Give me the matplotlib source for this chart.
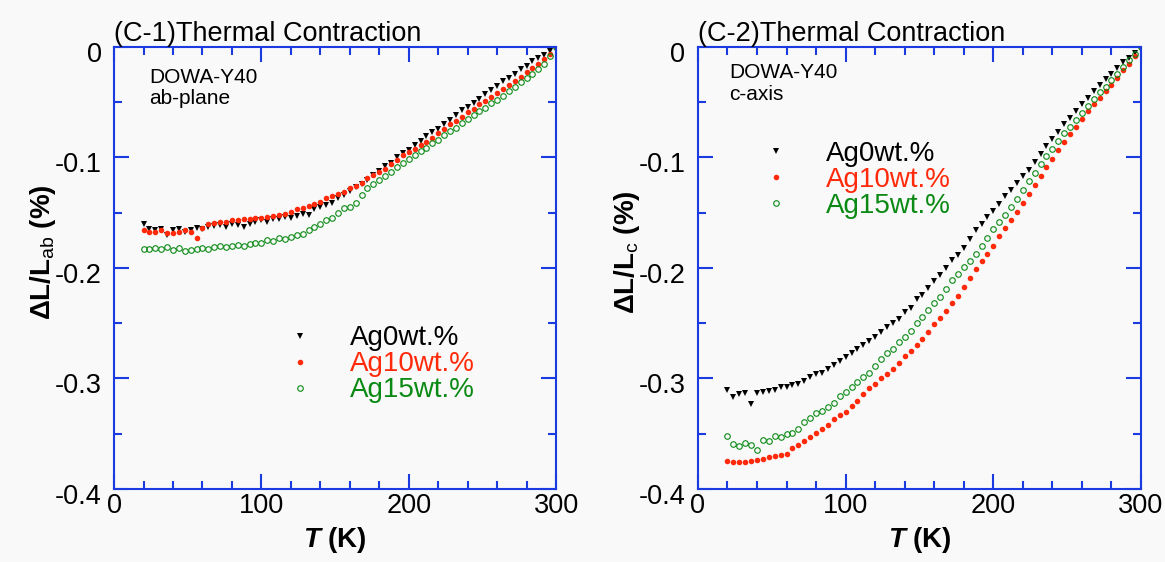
import matplotlib
matplotlib.use("Agg")
import matplotlib.pyplot as plt
import matplotlib.transforms as mtransforms
from matplotlib.ticker import MultipleLocator

plt.rcParams['font.family'] = ['Liberation Sans', 'DejaVu Sans']
plt.rcParams['mathtext.fontset'] = 'custom'
plt.rcParams['mathtext.rm'] = 'Liberation Sans'
plt.rcParams['mathtext.bf'] = 'Liberation Sans:bold'
plt.rcParams['mathtext.it'] = 'Liberation Sans:italic:bold'

# -----------------------------
# data
# -----------------------------
temp = [20, 24, 28, 32, 36, 40, 44, 48, 52, 56, 60, 64, 68, 72, 76, 80, 84, 88,
        92, 96, 100, 104, 108, 112, 116, 120, 124, 128, 132, 136, 140, 144, 148,
        152, 156, 160, 164, 168, 172, 176, 180, 184, 188, 192, 196, 200, 204,
        208, 212, 216, 220, 224, 228, 232, 236, 240, 244, 248, 252, 256, 260,
        264, 268, 272, 276, 280, 284, 288, 292, 296, 300]

ab_ag0 = [-0.160, -0.165, -0.166, -0.165, -0.170, -0.166, -0.165, -0.167, -0.166,
          -0.164, -0.165, -0.163, -0.162, -0.161, -0.163, -0.160, -0.161, -0.163,
          -0.160, -0.158, -0.157, -0.158, -0.156, -0.156, -0.154, -0.155, -0.153,
          -0.151, -0.152, -0.147, -0.145, -0.143, -0.141, -0.137, -0.134, -0.130,
          -0.127, -0.124, -0.120, -0.116, -0.112, -0.108, -0.105, -0.100, -0.096,
          -0.093, -0.089, -0.085, -0.081, -0.077, -0.074, -0.070, -0.066, -0.062,
          -0.057, -0.054, -0.051, -0.047, -0.043, -0.039, -0.035, -0.031, -0.028,
          -0.024, -0.020, -0.017, -0.013, -0.010, -0.007, -0.004, 0.000]

ab_ag10 = [-0.166, -0.167, -0.167, -0.166, -0.168, -0.168, -0.167, -0.166, -0.167,
           -0.173, -0.164, -0.160, -0.159, -0.158, -0.158, -0.157, -0.157, -0.156,
           -0.156, -0.155, -0.155, -0.154, -0.153, -0.152, -0.151, -0.149, -0.147,
           -0.146, -0.144, -0.142, -0.140, -0.137, -0.135, -0.133, -0.131, -0.128,
           -0.126, -0.123, -0.119, -0.116, -0.113, -0.110, -0.106, -0.102, -0.098,
           -0.095, -0.092, -0.089, -0.086, -0.082, -0.078, -0.074, -0.070, -0.067,
           -0.063, -0.059, -0.056, -0.052, -0.049, -0.045, -0.042, -0.038, -0.034,
           -0.031, -0.027, -0.023, -0.019, -0.015, -0.011, -0.006, 0.000]

ab_ag15 = [-0.183, -0.183, -0.182, -0.183, -0.181, -0.184, -0.182, -0.185, -0.184,
           -0.183, -0.182, -0.183, -0.181, -0.180, -0.181, -0.180, -0.179, -0.180,
           -0.178, -0.177, -0.177, -0.175, -0.176, -0.173, -0.174, -0.172, -0.170,
           -0.169, -0.166, -0.163, -0.160, -0.157, -0.155, -0.150, -0.146, -0.145,
           -0.141, -0.134, -0.128, -0.124, -0.120, -0.117, -0.113, -0.109, -0.105,
           -0.101, -0.098, -0.094, -0.091, -0.087, -0.084, -0.080, -0.076, -0.073,
           -0.069, -0.065, -0.062, -0.058, -0.055, -0.051, -0.048, -0.044, -0.040,
           -0.036, -0.032, -0.028, -0.024, -0.020, -0.015, -0.008, 0.000]

c_ag0 = [-0.310, -0.317, -0.314, -0.313, -0.323, -0.313, -0.312, -0.311, -0.310,
         -0.308, -0.308, -0.306, -0.305, -0.302, -0.299, -0.296, -0.295, -0.291,
         -0.288, -0.284, -0.281, -0.277, -0.273, -0.270, -0.266, -0.262, -0.258,
         -0.253, -0.250, -0.246, -0.240, -0.236, -0.228, -0.224, -0.218, -0.212,
         -0.206, -0.200, -0.193, -0.188, -0.182, -0.174, -0.166, -0.160, -0.154,
         -0.148, -0.142, -0.135, -0.129, -0.123, -0.117, -0.111, -0.104, -0.097,
         -0.090, -0.083, -0.077, -0.070, -0.064, -0.058, -0.052, -0.046, -0.040,
         -0.034, -0.029, -0.024, -0.019, -0.014, -0.010, -0.005, 0.000]

c_ag10 = [-0.375, -0.376, -0.376, -0.376, -0.375, -0.374, -0.373, -0.371, -0.370,
          -0.369, -0.368, -0.363, -0.360, -0.357, -0.353, -0.349, -0.346, -0.342,
          -0.337, -0.333, -0.330, -0.325, -0.320, -0.314, -0.309, -0.305, -0.300,
          -0.296, -0.291, -0.286, -0.280, -0.275, -0.270, -0.264, -0.258, -0.251,
          -0.245, -0.239, -0.232, -0.225, -0.217, -0.209, -0.201, -0.194, -0.187,
          -0.180, -0.171, -0.164, -0.157, -0.149, -0.141, -0.133, -0.125, -0.117,
          -0.109, -0.101, -0.093, -0.086, -0.079, -0.072, -0.065, -0.058, -0.052,
          -0.046, -0.040, -0.034, -0.028, -0.021, -0.015, -0.008, 0.000]

c_ag15 = [-0.352, -0.359, -0.361, -0.358, -0.360, -0.365, -0.356, -0.357, -0.352,
          -0.353, -0.350, -0.349, -0.346, -0.339, -0.336, -0.331, -0.329, -0.326,
          -0.322, -0.316, -0.312, -0.308, -0.303, -0.299, -0.295, -0.289, -0.282,
          -0.277, -0.273, -0.267, -0.262, -0.257, -0.250, -0.244, -0.238, -0.232,
          -0.226, -0.219, -0.211, -0.205, -0.199, -0.194, -0.187, -0.180, -0.173,
          -0.165, -0.158, -0.152, -0.145, -0.138, -0.129, -0.121, -0.114, -0.106,
          -0.099, -0.092, -0.085, -0.078, -0.072, -0.066, -0.060, -0.053, -0.047,
          -0.041, -0.036, -0.030, -0.024, -0.018, -0.012, -0.006, 0.000]

labels = ['Ag0wt.%', 'Ag10wt.%', 'Ag15wt.%']
colors = ['black', '#ff2a0a', '#0a8a14']
axis_blue = '#1a3be0'

fig = plt.figure(figsize=(11.65, 5.62), dpi=100, facecolor='#f9f9f9')
ax1 = fig.add_axes([0.0979, 0.1299, 0.3794, 0.7865])
ax2 = fig.add_axes([0.5991, 0.1299, 0.3803, 0.7865])

panels = [
    (ax1, [ab_ag0, ab_ag10, ab_ag15], '(C-1)Thermal Contraction',
     'DOWA-Y40\nab-plane', 'ab', (0.079, 0.952), (0.389, 0.37)),
    (ax2, [c_ag0, c_ag10, c_ag15], '(C-2)Thermal Contraction',
     'DOWA-Y40\nc-axis', 'c', (0.070, 0.963), (0.145, 0.787)),
]

for ax, series, title, note, sub, note_pos, leg_pos in panels:
    ax.set_facecolor('#f9f9f9')
    ax.plot(temp, series[0], 'v', color=colors[0], ms=4.6, mew=0, label=labels[0])
    ax.plot(temp, series[1], 'o', color=colors[1], ms=4.0, mew=0, label=labels[1])
    ax.plot(temp, series[2], 'o', mfc='none', mec=colors[2], ms=4.0, mew=0.8,
            label=labels[2])

    ax.set_xlim(0, 300)
    ax.set_ylim(-0.4, 0)
    ax.xaxis.set_minor_locator(MultipleLocator(20))
    ax.yaxis.set_minor_locator(MultipleLocator(0.05))
    ax.set_yticks([-0.4, -0.3, -0.2, -0.1, 0])
    ax.set_yticklabels(['-0.4', '-0.3', '-0.2', '-0.1', '0'])
    ax.set_xticks([0, 100, 200, 300])
    ax.set_xticklabels(['0', '100', '200', '300'])

    for sp in ax.spines.values():
        sp.set_color(axis_blue)
        sp.set_linewidth(1.5)
    ax.tick_params(which='both', direction='in', top=True, right=True,
                   color=axis_blue, width=1.5, labelsize=19.5)
    ax.tick_params(which='major', length=11)
    ax.tick_params(which='minor', length=5.5)
    ax.tick_params(axis='x', pad=3)
    ax.tick_params(axis='y', pad=9)

    # y tick labels sit slightly below their ticks in the original
    offset = mtransforms.ScaledTranslation(0, -5 / 100, fig.dpi_scale_trans)
    for lab in ax.get_yticklabels():
        lab.set_transform(lab.get_transform() + offset)

    ax.set_title(title, loc='left', fontsize=19.5, pad=4)
    ax.text(note_pos[0], note_pos[1], note, transform=ax.transAxes,
            fontsize=15, va='top', ha='left', linespacing=1.15)

    ax.set_xlabel(r'$T$ (K)', fontsize=20, fontweight='bold', labelpad=4)
    ax.set_ylabel(r'ΔL/L$_{\mathrm{' + sub + r'}}$ (%)', fontsize=20,
                  fontweight='bold')
    ax.yaxis.set_label_coords(-0.127, 0.535)

    ax.legend(loc='upper left', bbox_to_anchor=leg_pos, frameon=False,
              fontsize=20, handlelength=1.0, handletextpad=1.3,
              labelspacing=0.0, borderpad=0, borderaxespad=0,
              labelcolor=colors, markerscale=1.0)

fig.savefig('out.png', dpi=100, facecolor=fig.get_facecolor())
